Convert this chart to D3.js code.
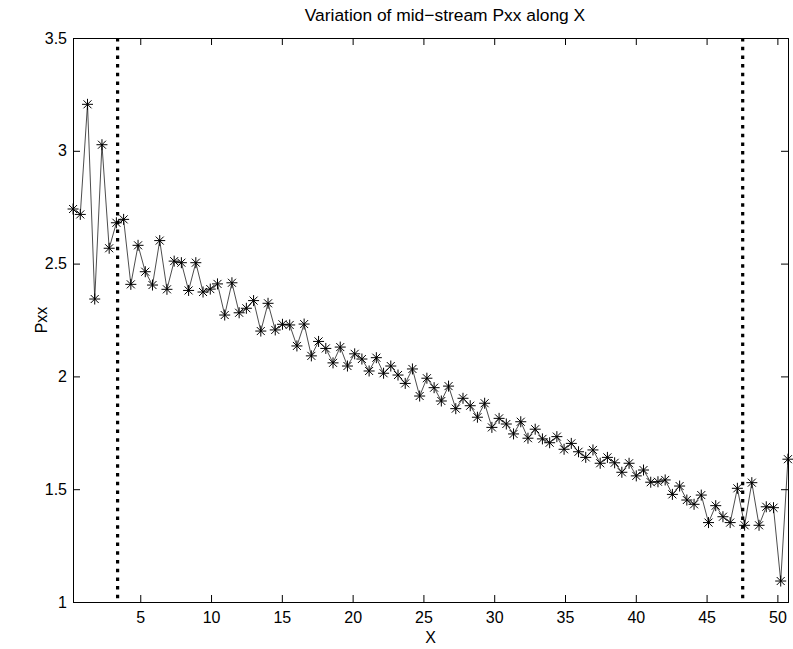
<!DOCTYPE html>
<html>
<head>
<meta charset="utf-8">
<script src="https://cdn.jsdelivr.net/npm/d3@7"></script>
<style>
  body { margin: 0; background: #fff; }
  svg { display: block; }
  text { font-family: "Liberation Sans", Arial, Helvetica, sans-serif; fill: #000; }
</style>
</head>
<body>
<div id="chart"></div>
<script>
// mid-stream Pxx, one value per grid station (100 stations)
var pxx = [
  2.742, 2.718, 3.206, 2.343, 3.027, 2.568, 2.681, 2.696, 2.408, 2.581,
  2.464, 2.405, 2.602, 2.386, 2.511, 2.504, 2.381, 2.504, 2.374, 2.387,
  2.410, 2.272, 2.415, 2.282, 2.302, 2.336, 2.201, 2.324, 2.206, 2.231,
  2.228, 2.135, 2.232, 2.091, 2.155, 2.124, 2.060, 2.130, 2.046, 2.100,
  2.077, 2.024, 2.083, 2.014, 2.046, 2.006, 1.969, 2.033, 1.913, 1.992,
  1.950, 1.891, 1.957, 1.857, 1.903, 1.870, 1.819, 1.881, 1.774, 1.814,
  1.789, 1.745, 1.799, 1.726, 1.766, 1.723, 1.706, 1.733, 1.677, 1.703,
  1.666, 1.641, 1.674, 1.615, 1.641, 1.617, 1.575, 1.615, 1.559, 1.585,
  1.531, 1.533, 1.541, 1.477, 1.514, 1.452, 1.433, 1.474, 1.352, 1.427,
  1.378, 1.352, 1.504, 1.340, 1.529, 1.340, 1.422, 1.418, 1.093, 1.633
];
var xStart = 0.255, xStep = 0.51;   // station spacing along X
var xTicks = [5, 10, 15, 20, 25, 30, 35, 40, 45, 50];
var yTicks = [1, 1.5, 2, 2.5, 3, 3.5];
var bounds = [3.4, 47.55];          // dotted vertical markers

var data = pxx.map((v, i) => ({x: xStart + i * xStep, y: v}));

var width = 793, height = 649;
var margin = {top: 38, right: 5, bottom: 47, left: 73};
var chartWidth = width - margin.left - margin.right;
var chartHeight = height - margin.top - margin.bottom;

var svg = d3.select('#chart').append('svg')
    .attr('width', width)
    .attr('height', height)
  .append('g')
    .attr('transform', `translate(${margin.left}, ${margin.top})`);

var xScale = d3.scaleLinear().domain([0.25, 50.75]).range([0, chartWidth]);
var yScale = d3.scaleLinear().domain([1, 3.5]).range([chartHeight, 0]);

var fs = '16px';

// axes: MATLAB style, ticks inside, on all four sides
var xAxis = d3.axisBottom(xScale).tickValues(xTicks).tickSize(-7).tickPadding(10).tickFormat(d3.format('d'));
var yAxis = d3.axisLeft(yScale).tickValues(yTicks).tickSize(-7).tickPadding(6).tickFormat(d => String(d));

svg.append('g')
    .attr('class', 'x axis')
    .attr('transform', `translate(0,${chartHeight})`)
    .call(xAxis)
    .call(g => g.selectAll('text').style('font-size', fs));

svg.append('g')
    .attr('class', 'y axis')
    .call(yAxis)
    .call(g => g.selectAll('text').style('font-size', fs));

svg.append('g')
    .call(d3.axisTop(xScale).tickValues(xTicks).tickSize(-7).tickFormat(''));
svg.append('g')
    .attr('transform', `translate(${chartWidth},0)`)
    .call(d3.axisRight(yScale).tickValues(yTicks).tickSize(-7).tickFormat(''));

svg.selectAll('.domain, .tick line').attr('stroke', '#000').attr('stroke-width', 1);

// dotted verticals
svg.selectAll('.bound')
    .data(bounds)
    .enter()
    .append('line')
    .attr('class', 'bound')
    .attr('x1', d => xScale(d))
    .attr('x2', d => xScale(d))
    .attr('y1', 0)
    .attr('y2', chartHeight)
    .attr('stroke', '#000')
    .attr('stroke-width', 3.2)
    .attr('stroke-dasharray', '3.5,5.2');

var line = d3.line().x(d => xScale(d.x)).y(d => yScale(d.y));

svg.append('path')
    .datum(data)
    .attr('d', line)
    .attr('fill', 'none')
    .attr('stroke', '#000')
    .attr('stroke-width', 0.7);

// asterisk markers
var star = 'M-5.5,0H5.5M0,-5.5V5.5M-4,-4L4,4M-4,4L4,-4';
svg.selectAll('.pt')
    .data(data)
    .enter()
    .append('path')
    .attr('class', 'pt')
    .attr('d', star)
    .attr('transform', d => `translate(${xScale(d.x)},${yScale(d.y)})`)
    .attr('fill', 'none')
    .attr('stroke', '#000')
    .attr('stroke-width', 1);

// labels
svg.append('text')
    .attr('x', 372)
    .attr('y', -17)
    .attr('text-anchor', 'middle')
    .style('font-size', '17.4px')
    .text('Variation of mid\u2212stream Pxx along X');

svg.append('text')
    .attr('x', chartWidth / 2)
    .attr('y', chartHeight + 41)
    .attr('text-anchor', 'middle')
    .style('font-size', fs)
    .text('X');

svg.append('text')
    .attr('transform', `translate(-26,${chartHeight / 2}) rotate(-90)`)
    .attr('text-anchor', 'middle')
    .style('font-size', fs)
    .text('Pxx');
</script>
</body>
</html>
